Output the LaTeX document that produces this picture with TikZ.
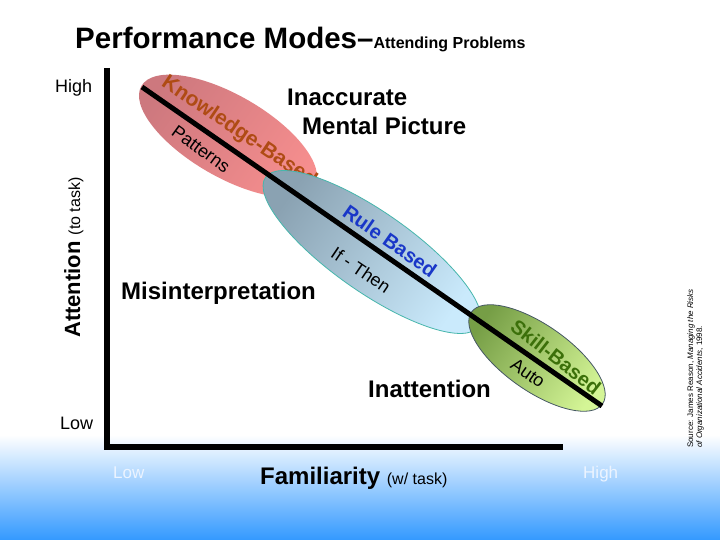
\documentclass[tikz,border=0pt]{standalone}
\usepackage{fontspec}
\setmainfont{Liberation Sans}
\definecolor{pinkA}{RGB}{205,120,126}
\definecolor{pinkB}{RGB}{246,142,142}
\definecolor{blueA}{RGB}{138,162,178}
\definecolor{blueB}{RGB}{202,234,252}
\definecolor{blueE}{RGB}{70,182,172}
\definecolor{greenA}{RGB}{118,158,70}
\definecolor{greenB}{RGB}{212,245,150}
\definecolor{greenE}{RGB}{70,88,100}
\definecolor{kbcol}{RGB}{175,75,20}
\definecolor{rbcol}{RGB}{25,55,200}
\definecolor{sbcol}{RGB}{60,112,10}
\definecolor{bgblue}{RGB}{51,153,255}
\definecolor{paleW}{RGB}{236,244,255}
\begin{document}
\begin{tikzpicture}[x=1pt,y=-1pt,
  every node/.style={inner sep=0pt},
  bigtxt/.style={font=\bfseries\fontsize{24}{26}\selectfont},
  axlbl/.style={font=\fontsize{18}{20}\selectfont},
  modelbl/.style={font=\bfseries\fontsize{21}{23}\selectfont},
  sublbl/.style={font=\fontsize{18}{20}\selectfont},
  axisline/.style={line width=6pt, miter limit=10},
  diagline/.style={line width=5pt}]
\useasboundingbox (0,0) rectangle (720,540);
\fill[white] (0,0) rectangle (720,540);
\shade[top color=white, bottom color=bgblue] (0,435) rectangle (720,540);

% title
\node[anchor=base west] (title) at (75,49) {\bfseries\fontsize{29.5}{31}\selectfont Performance Modes–\fontsize{16}{18}\selectfont Attending Problems};

% knowledge-based
\shade[top color=pinkA, bottom color=pinkB, shading angle=55, rotate around={-30:(228,136)}] (228,136) ellipse [x radius=100, y radius=41];
\node[modelbl, text=kbcol, rotate=-34] (kb) at (239,132) {Knowledge-Based};
\node[sublbl, rotate=-36] (pat) at (201,149) {Patterns};

% rule-based
\shade[draw=blueE, line width=0.8pt, top color=blueA, bottom color=blueB, shading angle=55, rotate around={-35:(372,252)}] (372,252) ellipse [x radius=130, y radius=40];
\node[modelbl, font=\bfseries\fontsize{20}{22}\selectfont, text=rbcol, rotate=-35] (rb) at (390,241) {Rule Based};
\node[sublbl, rotate=-34] (ift) at (361,270) {If - Then};

% skill-based
\shade[draw=greenE, line width=0.8pt, top color=greenA, bottom color=greenB, shading angle=55, rotate around={-35:(537,358)}] (537,358) ellipse [x radius=80, y radius=33];
\node[modelbl, font=\bfseries\fontsize{20}{22}\selectfont, text=sbcol, rotate=-38] (sb) at (556,357) {Skill-Based};
\node[sublbl, rotate=-35] (auto) at (528,373) {Auto};

% diagonal
\coordinate (ls) at (142,87);
\coordinate (le) at (602,406);
\draw[diagline] (ls) -- (le);

% axes
\coordinate (ytop) at (106.5,68);
\coordinate (org) at (106.5,447);
\coordinate (xend) at (563,447);
\draw[axisline] (ytop) -- (org) -- (xend);

% region labels
\node[bigtxt, anchor=base west] (ina) at (287,106) {Inaccurate};
\node[bigtxt, anchor=base west] (mp) at (302,135) {Mental Picture};
\node[bigtxt, anchor=base west] (mis) at (121,299) {Misinterpretation};
\node[bigtxt, anchor=base west] (inat) at (368,397) {Inattention};

% axis labels
\node[axlbl, anchor=base west] (yhigh) at (55,93) {High};
\node[axlbl, anchor=base west] (ylow) at (60,429) {Low};
\node[rotate=90, anchor=base west] (att) at (80,338) {\bfseries\fontsize{22}{24}\selectfont Attention \mdseries\fontsize{16}{18}\selectfont(to task)};
\node[anchor=base west, text=paleW, font=\fontsize{17}{19}\selectfont] (xlow) at (113,478) {Low};
\node[anchor=base west, text=paleW, font=\fontsize{17}{19}\selectfont] (xhigh) at (583,478) {High};
\node[anchor=base west] (fam) at (260,484) {\bfseries\fontsize{24}{26}\selectfont Familiarity \mdseries\fontsize{16}{18}\selectfont(w/ task)};

% source
\node[rotate=90, anchor=base west, font=\fontsize{8}{9}\selectfont] (src1) at (693,448) {Source: James Reason, \textit{Managing the Risks}};
\node[rotate=90, anchor=base west, font=\fontsize{8}{9}\selectfont] (src2) at (702,448) {\textit{of Organizational Accidents}, 1998.};
\end{tikzpicture}
\end{document}
